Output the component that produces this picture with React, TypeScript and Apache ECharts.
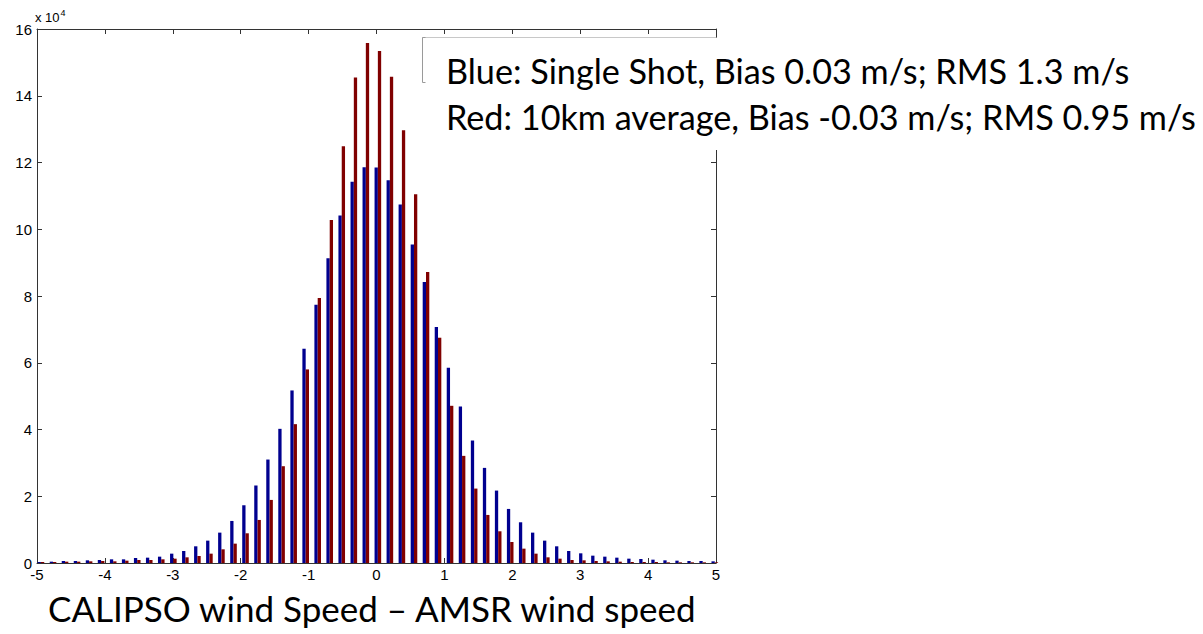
import React, { useEffect, useRef } from "react";
import * as echarts from "echarts";

// Bin centres (difference, m/s)
const binCenters = [
  -4.942, -4.764, -4.587, -4.41, -4.233, -4.056, -3.878, -3.701, -3.524, -3.347,
  -3.17, -2.992, -2.815, -2.638, -2.461, -2.284, -2.106, -1.929, -1.752, -1.575,
  -1.398, -1.22, -1.043, -0.866, -0.689, -0.512, -0.334, -0.157, 0.02, 0.197,
  0.374, 0.552, 0.729, 0.906, 1.083, 1.26, 1.438, 1.615, 1.792, 1.969,
  2.146, 2.324, 2.501, 2.678, 2.855, 3.032, 3.21, 3.387, 3.564, 3.741,
  3.918, 4.096, 4.273, 4.45, 4.627, 4.804, 4.982,
];

// Counts in units of 10^4 — Blue: single shot
const blueCounts = [
  0.03, 0.04, 0.06, 0.06, 0.08, 0.09, 0.11, 0.11, 0.15, 0.16,
  0.19, 0.28, 0.36, 0.5, 0.67, 0.91, 1.26, 1.73, 2.32, 3.1,
  4.02, 5.17, 6.42, 7.74, 9.13, 10.41, 11.42, 11.86, 11.85, 11.47,
  10.74, 9.54, 8.42, 7.07, 5.85, 4.69, 3.67, 2.85, 2.17, 1.62,
  1.22, 0.91, 0.67, 0.5, 0.36, 0.29, 0.22, 0.19, 0.16, 0.13,
  0.12, 0.1, 0.08, 0.07, 0.06, 0.06, 0.05,
];

// Red: 10 km average
const redCounts = [
  0.03, 0.03, 0.04, 0.04, 0.05, 0.06, 0.05, 0.07, 0.09, 0.09,
  0.11, 0.13, 0.17, 0.21, 0.28, 0.41, 0.58, 0.89, 1.29, 1.89,
  2.9, 4.16, 5.8, 7.94, 10.28, 12.49, 14.55, 15.58, 15.34, 14.57,
  12.97, 11.05, 8.72, 6.75, 4.71, 3.21, 2.23, 1.44, 0.95, 0.63,
  0.43, 0.28, 0.17, 0.13, 0.09, 0.08, 0.06, 0.05, 0.04, 0.03,
  0.03, 0.03, 0.02, 0.02, 0.02, 0.02, 0.02,
];

const legendLines = [
  "Blue: Single Shot, Bias 0.03 m/s; RMS 1.3 m/s",
  "Red: 10km average, Bias -0.03 m/s; RMS 0.95 m/s",
];
const xTitle = "CALIPSO wind Speed \u2013 AMSR wind speed";

const AXIS = "#333333";
const BIG_FONT = "Lato";

export default function App() {
  const ref = useRef<HTMLDivElement>(null);

  useEffect(() => {
    document.body.style.margin = "0";
    if (!ref.current) return;
    const chart = echarts.init(ref.current, null, { renderer: "svg" });

    const tickAxisCommon = {
      axisLine: { show: true, onZero: false, lineStyle: { color: AXIS, width: 1 } },
      axisTick: { show: true, inside: true, length: 5, lineStyle: { color: AXIS } },
      splitLine: { show: false },
    };

    chart.setOption({
      animation: false,
      backgroundColor: "#ffffff",
      textStyle: { fontFamily: "Liberation Sans" },
      grid: { left: 37, right: 487, top: 29, bottom: 71, containLabel: false },
      xAxis: [
        {
          type: "value",
          position: "bottom",
          min: -5,
          max: 5,
          interval: 1,
          ...tickAxisCommon,
          axisLabel: { show: true, color: "#000", fontSize: 15, margin: 4 },
        },
        {
          type: "value",
          position: "top",
          min: -5,
          max: 5,
          interval: 1,
          ...tickAxisCommon,
          axisLabel: { show: false },
        },
      ],
      yAxis: [
        {
          type: "value",
          position: "left",
          min: 0,
          max: 16,
          interval: 2,
          ...tickAxisCommon,
          axisLabel: { show: true, color: "#000", fontSize: 15, margin: 5 },
        },
        {
          type: "value",
          position: "right",
          min: 0,
          max: 16,
          interval: 2,
          ...tickAxisCommon,
          axisLabel: { show: false },
        },
      ],
      series: [
        {
          name: "Single Shot",
          type: "bar",
          xAxisIndex: 0,
          yAxisIndex: 0,
          barWidth: 3.3,
          barGap: "0%",
          itemStyle: { color: "#00008f" },
          data: binCenters.map((x, i) => [x, blueCounts[i]]),
        },
        {
          name: "10km average",
          type: "bar",
          xAxisIndex: 0,
          yAxisIndex: 0,
          barWidth: 3.3,
          barGap: "0%",
          itemStyle: { color: "#800000" },
          data: binCenters.map((x, i) => [x, redCounts[i]]),
        },
      ],
      graphic: [
        {
          type: "text",
          left: 35,
          top: 8,
          z: 10,
          style: {
            text: "{a|x 10}{b|4}",
            rich: {
              a: { fontSize: 13, fontFamily: "Liberation Sans", fill: "#000", padding: [6, 0, 0, 0] },
              b: { fontSize: 9, fontFamily: "Liberation Sans", fill: "#000", padding: [0, 0, 4, 1] },
            },
          },
        },
        {
          type: "rect",
          z: 20,
          shape: { x: 422, y: 38, width: 781, height: 112 },
          style: { fill: "#ffffff", stroke: "none" },
        },
        {
          type: "line",
          z: 21,
          shape: { x1: 422.5, y1: 37.5, x2: 716.5, y2: 37.5 },
          style: { stroke: "#c8c8c8", lineWidth: 1 },
        },
        {
          type: "polyline",
          z: 21,
          shape: { points: [[425.5, 37.5], [422.5, 37.5], [422.5, 82.5], [425.5, 82.5]] },
          style: { stroke: "#9a9a9a", lineWidth: 1, fill: "none" },
        },
        {
          type: "text",
          z: 22,
          x: 446,
          y: 70,
          style: {
            text: legendLines[0],
            fontFamily: BIG_FONT,
            fontSize: 34.2,
            fill: "#000",
            verticalAlign: "middle",
          },
        },
        {
          type: "text",
          z: 22,
          x: 446,
          y: 116,
          style: {
            text: legendLines[1],
            fontFamily: BIG_FONT,
            fontSize: 34.2,
            fill: "#000",
            verticalAlign: "middle",
          },
        },
        {
          type: "text",
          z: 22,
          x: 48,
          y: 608,
          style: {
            text: xTitle,
            fontFamily: BIG_FONT,
            fontSize: 35,
            fill: "#000",
            verticalAlign: "middle",
          },
        },
      ],
    });

    return () => chart.dispose();
  }, []);

  return <div ref={ref} style={{ width: 1203, height: 634 }} />;
}
